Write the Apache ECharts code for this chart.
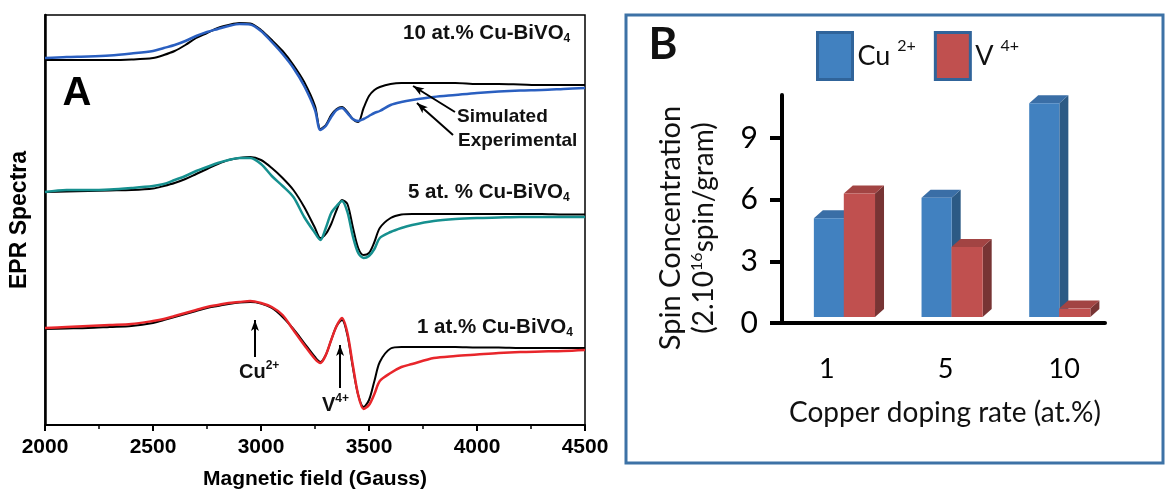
<!DOCTYPE html>
<html>
<head>
<meta charset="utf-8">
<title>EPR spectra and spin concentration</title>
<script src="https://cdn.jsdelivr.net/npm/echarts@6/dist/echarts.min.js"></script>
<style>
  html, body { margin: 0; padding: 0; background: #fff; }
  #chart { width: 1168px; height: 492px; }
</style>
</head>
<body>
<div id="chart"></div>
<script>
// Panel A: magnetic field samples (Gauss) and spectra (arbitrary units, offset per sample)
var fields = [2000, 2100, 2200, 2300, 2400, 2500, 2550, 2600, 2650, 2700,
  2750, 2800, 2850, 2900, 2950, 3000, 3050, 3100, 3150, 3200,
  3250, 3275, 3300, 3325, 3350, 3375, 3400, 3425, 3450, 3475,
  3500, 3525, 3550, 3600, 3650, 3700, 3800, 3900, 4000, 4100,
  4200, 4300, 4400, 4500];
var sim10 = [365, 365, 365, 365, 365.5, 367, 370, 374, 380, 387,
  392, 397, 400, 402, 401.5, 395, 385, 374, 360, 343,
  319, 296, 300, 310, 316, 318, 313, 306, 303, 317,
  329, 335, 338, 341, 342, 342, 342, 342, 341, 341,
  340.5, 340, 340, 340];
var exp10 = [367, 368, 368.5, 369.5, 371.5, 374, 377, 380, 384, 389,
  393, 396, 399, 401, 400.5, 394, 383, 371, 357, 339,
  315, 295, 299, 308, 315, 317, 312, 306, 304, 306,
  309, 312, 314, 320, 323, 325, 328, 330, 332, 333.5,
  334.5, 335, 336, 337];
var sim5 = [233, 233.5, 234, 234.5, 235, 236.5, 239, 242, 246, 251,
  256, 261, 265, 267, 268, 265, 257, 247, 235, 218,
  197, 187, 191, 201, 215, 225, 221, 198, 177, 170,
  172, 183, 197, 207, 210.5, 211, 211, 211, 211, 211,
  211, 211, 210.5, 210.5];
var exp5 = [233, 235, 235, 235.5, 237, 239, 241, 245, 249, 254,
  258, 262, 265, 267, 267, 261, 249, 239, 228, 208,
  192, 185, 197, 212, 219, 224, 213, 189, 172, 167,
  169, 176, 187, 193, 197, 200, 204, 206, 207, 207.5,
  208, 208, 208, 208];
var sim1 = [96, 96.5, 97, 98, 99, 102, 105, 108, 111, 114,
  117, 119, 121, 122.5, 123, 121.5, 117, 108, 96, 82,
  68, 63, 70, 85, 99, 105, 90, 58, 30, 18,
  25, 44, 63, 76.5, 78, 78, 78, 78, 77.5, 77.5,
  77, 77, 77, 77];
var exp1 = [97, 98, 99, 100, 101, 104, 106, 109, 112, 115,
  118, 120, 122, 123, 124, 122, 118, 110, 95, 80,
  66, 62, 70, 85, 99, 107, 92, 60, 30, 16,
  20, 31, 44, 52, 58, 61, 67, 69, 70.5, 72,
  73, 73.5, 74, 75];

// Panel B: spin concentration (x 2.10^16 spin/gram)
var dopingRates = ['1', '5', '10'];
var cuSpins = [5.1, 6.1, 10.7];
var vSpins = [6.3, 3.7, 0.7];
var spinTicks = [0, 3, 6, 9];

var chart = echarts.init(document.getElementById('chart'), null, { renderer: 'canvas' });

function pairs(ys) {
  return fields.map(function (f, i) { return [f, ys[i]]; });
}

function spectrum(name, ys, color, width) {
  return {
    name: name, type: 'line', xAxisIndex: 0, yAxisIndex: 0,
    data: pairs(ys), showSymbol: false, smooth: 0.3, silent: true,
    lineStyle: { color: color, width: width }, z: width > 2 ? 3 : 2
  };
}

// 3D column: front face, top face, right side
function bar3d(shift, widthFrac, front, top, side) {
  return function (params, api) {
    var band = api.size([1, 0])[0];
    var pTop = api.coord([api.value(0), api.value(1)]);
    var pBase = api.coord([api.value(0), 0]);
    var x0 = pTop[0] + shift * band, w = widthFrac * band;
    var yT = pTop[1], yB = pBase[1] - 6, dx = 9, dy = 8;
    return {
      type: 'group',
      children: [
        { type: 'polygon', shape: { points: [[x0 + w, yT], [x0 + w + dx, yT - dy], [x0 + w + dx, yB - dy], [x0 + w, yB]] }, style: { fill: side } },
        { type: 'polygon', shape: { points: [[x0, yT], [x0 + dx, yT - dy], [x0 + w + dx, yT - dy], [x0 + w, yT]] }, style: { fill: top } },
        { type: 'rect', shape: { x: x0, y: yT, width: w, height: yB - yT }, style: { fill: front } }
      ]
    };
  };
}

var arial = '"Liberation Sans", Arial, sans-serif';
var lato = 'Lato, "Open Sans", sans-serif';

function labelRich(size) {
  return {
    t: { font: 'bold ' + size + 'px ' + arial, fill: '#111', lineHeight: 24 },
    sub: { font: 'bold 12px ' + arial, fill: '#111', lineHeight: 12, verticalAlign: 'bottom' },
    sup: { font: 'bold 12px ' + arial, fill: '#111', lineHeight: 12, verticalAlign: 'top' }
  };
}

function note(x, y, text, size) {
  return {
    type: 'text', x: x, y: y, z: 10,
    style: { text: text, rich: labelRich(size), align: 'left', verticalAlign: 'middle' }
  };
}

chart.setOption({
  animation: false,
  backgroundColor: '#fff',
  grid: [
    { left: 45, right: 583, top: 15, bottom: 67, show: true, borderColor: '#000', borderWidth: 1.5, outerBoundsMode: 'none' },
    { left: 782, right: 63, top: 95, bottom: 169, outerBoundsMode: 'none' }
  ],
  legend: {
    left: 811, top: 26, itemWidth: 35, itemHeight: 47, itemGap: 18, icon: 'rect',
    data: ['Cu', 'V'],
    itemStyle: { borderColor: '#30649a', borderWidth: 3 },
    formatter: function (name) {
      return name === 'Cu' ? '{b|Cu }{s|2+}' : '{b|V }{s|4+}';
    },
    textStyle: {
      rich: {
        b: { fontFamily: lato, fontSize: 27, color: '#111', lineHeight: 36 },
        s: { fontFamily: lato, fontSize: 16, color: '#111', lineHeight: 20, verticalAlign: 'top' }
      }
    }
  },
  xAxis: [
    {
      gridIndex: 0, type: 'value', min: 2000, max: 4500, interval: 500,
      axisLine: { lineStyle: { color: '#000', width: 2 } },
      axisTick: { length: 6, lineStyle: { color: '#000', width: 2 } },
      minorTick: { show: true, splitNumber: 2, length: 4, lineStyle: { color: '#000', width: 1.5 } },
      splitLine: { show: false },
      axisLabel: {
        color: '#000', fontFamily: arial, fontWeight: 'bold', fontSize: 21, margin: 12,
        formatter: function (v) { return String(v); }
      },
      name: 'Magnetic field (Gauss)', nameLocation: 'middle', nameGap: 44,
      nameTextStyle: { color: '#000', fontFamily: arial, fontWeight: 'bold', fontSize: 21 }
    },
    {
      gridIndex: 1, type: 'category', data: dopingRates,
      axisLine: { lineStyle: { color: '#000', width: 4 } },
      axisTick: { length: 6, lineStyle: { color: '#000', width: 4 } },
      splitLine: { show: false },
      axisLabel: {
        color: '#000', fontFamily: lato, fontSize: 27, margin: 33,
        formatter: function (v, i) { return ['{l|', '{c|', '{r|'][i] + v + '}'; },
        rich: {
          l: { fontFamily: lato, fontSize: 27, padding: [0, 18, 0, 0] },
          c: { fontFamily: lato, fontSize: 27, padding: [0, 0, 0, 4] },
          r: { fontFamily: lato, fontSize: 27, padding: [0, 0, 0, 26] }
        }
      }
    }
  ],
  yAxis: [
    {
      gridIndex: 0, type: 'value', min: 0, max: 410,
      axisLine: { show: true, lineStyle: { color: '#000', width: 2.5 } },
      axisTick: { show: false }, axisLabel: { show: false }, splitLine: { show: false },
      name: 'EPR Spectra', nameLocation: 'middle', nameGap: 14,
      nameTextStyle: { color: '#000', fontFamily: arial, fontWeight: 'bold', fontSize: 23 }
    },
    {
      gridIndex: 1, type: 'value', min: 0, max: 11.1,
      axisLine: { show: true, lineStyle: { color: '#000', width: 4 } },
      axisTick: { show: true, length: 12, customValues: spinTicks, lineStyle: { color: '#000', width: 4 } },
      axisLabel: { color: '#000', fontFamily: lato, fontSize: 30, margin: 24, customValues: spinTicks },
      splitLine: { show: false }
    }
  ],
  series: [
    spectrum('sim10', sim10, '#000', 2),
    spectrum('exp10', exp10, '#2a5fc0', 2.5),
    spectrum('sim5', sim5, '#000', 2),
    spectrum('exp5', exp5, '#16908f', 2.5),
    {
      name: 'sim1', type: 'line', xAxisIndex: 0, yAxisIndex: 0,
      data: pairs(sim1), showSymbol: false, smooth: 0.3, silent: true,
      lineStyle: { color: '#000', width: 2 }, z: 2,
      markLine: {
        silent: true, symbol: ['none', 'arrow'], symbolSize: [6, 11],
        label: { show: false },
        lineStyle: { color: '#000', width: 2, type: 'solid' },
        data: [
          [{ coord: [2972, 68] }, { coord: [2972, 105] }],
          [{ coord: [3366, 37] }, { coord: [3366, 80] }],
          [{ coord: [3898, 313] }, { coord: [3704, 339] }],
          [{ coord: [3889, 290] }, { coord: [3722, 322] }]
        ]
      }
    },
    spectrum('exp1', exp1, '#e8262b', 2.5),
    {
      name: 'Cu', type: 'custom', xAxisIndex: 1, yAxisIndex: 1, clip: false,
      itemStyle: { color: '#4181c0' },
      data: dopingRates.map(function (c, i) { return [i, cuSpins[i]]; }),
      renderItem: bar3d(-0.204, 0.28, '#4181c0', '#3a6ea6', '#2c5a85')
    },
    {
      name: 'V', type: 'custom', xAxisIndex: 1, yAxisIndex: 1, clip: false,
      itemStyle: { color: '#c0504f' },
      data: dopingRates.map(function (c, i) { return [i, vSpins[i]]; }),
      renderItem: bar3d(0.074, 0.29, '#c0504f', '#a24443', '#773434')
    }
  ],
  graphic: [
    { type: 'rect', z: -1, shape: { x: 626, y: 15, width: 537, height: 448 }, style: { fill: 'none', stroke: '#3d72a6', lineWidth: 3 } },
    { type: 'text', x: 77, y: 94, style: { text: 'A', font: 'bold 40px ' + arial, fill: '#000', align: 'center', verticalAlign: 'middle' } },
    note(403, 33, '{t|10 at.% Cu-BiVO}{sub|4}', 20.5),
    note(457, 117, '{t|Simulated}', 19),
    note(458, 141, '{t|Experimental}', 19),
    note(408, 192, '{t|5 at. % Cu-BiVO}{sub|4}', 20.5),
    note(417, 327, '{t|1 at.% Cu-BiVO}{sub|4}', 20.5),
    note(239, 372, '{t|Cu}{sup|2+}', 20),
    note(322, 405, '{t|V}{sup|4+}', 20),
    { type: 'text', x: 663, y: 45, style: { text: 'B', font: 'bold 44px ' + lato, fill: '#111', align: 'center', verticalAlign: 'middle' } },
    {
      type: 'text', x: 671, y: 228, rotation: Math.PI / 2,
      style: { text: 'Spin Concentration', font: '29px ' + lato, fill: '#111', align: 'center', verticalAlign: 'middle' }
    },
    {
      type: 'text', x: 704, y: 228, rotation: Math.PI / 2,
      style: {
        text: '{m|(2.10}{s|16}{m|spin/gram)}', align: 'center', verticalAlign: 'middle',
        rich: {
          m: { font: '28px ' + lato, fill: '#111', lineHeight: 30 },
          s: { font: '16px ' + lato, fill: '#111', lineHeight: 16, verticalAlign: 'top' }
        }
      }
    },
    { type: 'text', x: 945, y: 413, style: { text: 'Copper doping rate (at.%)', font: '28px ' + lato, fill: '#111', align: 'center', verticalAlign: 'middle' } }
  ]
});
</script>
</body>
</html>
